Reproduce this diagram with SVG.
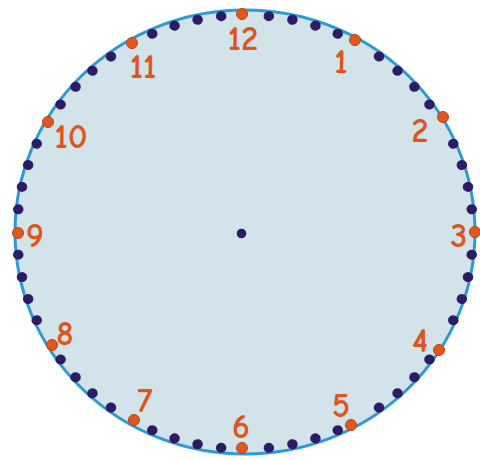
<svg xmlns="http://www.w3.org/2000/svg" xmlns:xlink="http://www.w3.org/1999/xlink" width="480" height="460" viewBox="0 0 480 460">
<style>
.face{fill:#d3e3ea;stroke:#2b9bd6;stroke-width:3}
.m{fill:#2d1b66}
.h{fill:#e2571e;stroke:#b8431a;stroke-width:1}
.n{font-family:"Comic Sans MS","Comic Neue","Open Sans",sans-serif;font-size:34px;font-weight:bold;fill:#e0541c;text-anchor:middle}
</style>
<defs>
<circle id="d" cx="0" cy="-217" r="5" class="m"/>
</defs>
<rect width="480" height="460" fill="#ffffff"/>
<g id="clock-face">
<ellipse class="face" cx="245" cy="232" rx="230" ry="222"/>
</g>
<g id="minute-dots" transform="translate(245,232) scale(1.0507,1)">
<use xlink:href="#d" transform="rotate(6)"/><use xlink:href="#d" transform="rotate(12)"/><use xlink:href="#d" transform="rotate(18)"/><use xlink:href="#d" transform="rotate(24)"/>
<use xlink:href="#d" transform="rotate(36)"/><use xlink:href="#d" transform="rotate(42)"/><use xlink:href="#d" transform="rotate(48)"/><use xlink:href="#d" transform="rotate(54)"/>
<use xlink:href="#d" transform="rotate(66)"/><use xlink:href="#d" transform="rotate(72)"/><use xlink:href="#d" transform="rotate(78)"/><use xlink:href="#d" transform="rotate(84)"/>
<use xlink:href="#d" transform="rotate(96)"/><use xlink:href="#d" transform="rotate(102)"/><use xlink:href="#d" transform="rotate(108)"/><use xlink:href="#d" transform="rotate(114)"/>
<use xlink:href="#d" transform="rotate(126)"/><use xlink:href="#d" transform="rotate(132)"/><use xlink:href="#d" transform="rotate(138)"/><use xlink:href="#d" transform="rotate(144)"/>
<use xlink:href="#d" transform="rotate(156)"/><use xlink:href="#d" transform="rotate(162)"/><use xlink:href="#d" transform="rotate(168)"/><use xlink:href="#d" transform="rotate(174)"/>
<use xlink:href="#d" transform="rotate(186)"/><use xlink:href="#d" transform="rotate(192)"/><use xlink:href="#d" transform="rotate(198)"/><use xlink:href="#d" transform="rotate(204)"/>
<use xlink:href="#d" transform="rotate(216)"/><use xlink:href="#d" transform="rotate(222)"/><use xlink:href="#d" transform="rotate(228)"/><use xlink:href="#d" transform="rotate(234)"/>
<use xlink:href="#d" transform="rotate(246)"/><use xlink:href="#d" transform="rotate(252)"/><use xlink:href="#d" transform="rotate(258)"/><use xlink:href="#d" transform="rotate(264)"/>
<use xlink:href="#d" transform="rotate(276)"/><use xlink:href="#d" transform="rotate(282)"/><use xlink:href="#d" transform="rotate(288)"/><use xlink:href="#d" transform="rotate(294)"/>
<use xlink:href="#d" transform="rotate(306)"/><use xlink:href="#d" transform="rotate(312)"/><use xlink:href="#d" transform="rotate(318)"/><use xlink:href="#d" transform="rotate(324)"/>
<use xlink:href="#d" transform="rotate(336)"/><use xlink:href="#d" transform="rotate(342)"/><use xlink:href="#d" transform="rotate(348)"/><use xlink:href="#d" transform="rotate(354)"/>
</g>
<g id="hour-dots">
<circle class="h" cx="242" cy="14" r="5.5"/>
<circle class="h" cx="355" cy="40" r="5.5"/>
<circle class="h" cx="443" cy="117" r="5.5"/>
<circle class="h" cx="475" cy="232" r="5.5"/>
<circle class="h" cx="439" cy="350" r="5.5"/>
<circle class="h" cx="351" cy="425" r="5.5"/>
<circle class="h" cx="242" cy="448" r="5.5"/>
<circle class="h" cx="134" cy="420" r="5.5"/>
<circle class="h" cx="52" cy="345" r="5.5"/>
<circle class="h" cx="18" cy="233" r="5.5"/>
<circle class="h" cx="48" cy="122" r="5.5"/>
<circle class="h" cx="132" cy="43" r="5.5"/>
</g>
<g id="center">
<circle class="m" cx="241.5" cy="233.5" r="4.8"/>
</g>
<g id="numbers">
<text class="n" x="243" y="50">12</text>
<text class="n" x="341" y="73">1</text>
<text class="n" x="420" y="142">2</text>
<text class="n" x="459" y="247">3</text>
<text class="n" x="420" y="352">4</text>
<text class="n" x="341" y="417">5</text>
<text class="n" x="241" y="438">6</text>
<text class="n" x="145" y="412">7</text>
<text class="n" x="65" y="345">8</text>
<text class="n" x="35" y="247">9</text>
<text class="n" x="71" y="148">10</text>
<text class="n" x="143" y="78">11</text>
</g>
</svg>
